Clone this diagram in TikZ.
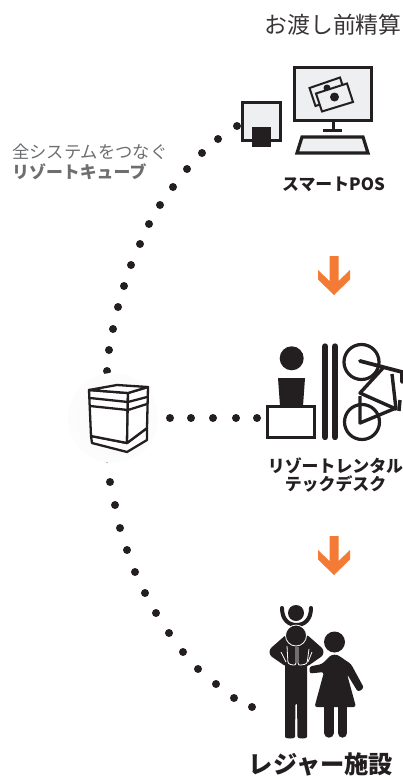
\documentclass[tikz,border=0pt]{standalone}
\usepackage{fontspec}
\setmainfont{Noto Sans CJK JP}
\usepackage{xcolor}
\usetikzlibrary{arrows.meta,positioning,calc}
\definecolor{inkdark}{HTML}{231F20}
\definecolor{screengray}{HTML}{EEEFF0}
\definecolor{labelgray}{HTML}{6D6E70}
\definecolor{arroworange}{HTML}{F47B35}
\tikzset{
  dotmark/.style={circle,fill=inkdark,inner sep=0pt,minimum size=8pt},
  iconline/.style={draw=inkdark,line width=3.2pt},
  boxline/.style={draw=inkdark,line width=2.3pt,line join=round},
  stationlabel/.style={text=inkdark,font=\bfseries\fontsize{16.9}{18}\selectfont,align=center},
}
\begin{document}
\begin{tikzpicture}[x=1pt,y=-1pt]
    \useasboundingbox (0,0) rectangle (403,776);
    % dotted arcs
    \foreach \x/\y [count=\i] in {237/126,218/139,202/153,187/169,173/187,160/205,149/224,140/244,131/265,124/286,118/307,113/329,109/350,107/371}
      \node[dotmark] (upper\i) at (\x,\y) {};
    \foreach \x/\y [count=\i] in {108/459,110/482,115/505,120/528,127/550,135/572,145/593,156/613,169/633,183/652,198/669,216/684,234/698,252/707}
      \node[dotmark] (lower\i) at (\x,\y) {};
    % cube
    \shade[inner color=black!3,outer color=black!1] (113,418) circle (45);
    \filldraw[boxline,fill=white] (91,436) -- (92,443) -- (127,452) -- (147,440) -- (147,428) -- (127,443) -- cycle;
    \filldraw[boxline,fill=white] (89,390) -- (128,393) -- (127,443) -- (91,436) -- cycle;
    \filldraw[boxline,fill=white] (128,393) -- (148,387) -- (147,428) -- (127,443) -- cycle;
    \filldraw[boxline,fill=white] (89,390) -- (117,385) -- (148,387) -- (128,393) -- cycle;
    \draw[boxline] (90,398) -- (128,402) -- (147,397);
    \draw[boxline] (90,406) -- (128,410) -- (147,404);
    \foreach \x [count=\i] in {170,191,213,236,257}
      \node[dotmark] (link\i) at (\x,418) {};
    % labels
    \node[text=inkdark!90,font=\fontsize{22.9}{24}\selectfont,inner sep=0pt] (paylabel) at (333,25) {お渡し前精算};
    \node[text=labelgray,font=\fontsize{17.3}{20}\selectfont,inner sep=0pt,anchor=west] (cubetop) at (12,152) {全システムをつなぐ};
    \node[text=labelgray,font=\bfseries\fontsize{16.9}{20}\selectfont,inner sep=0pt,anchor=west] (cubename) at (12,172) {リゾートキューブ};
    \node[stationlabel,inner sep=0pt] (poslabel) at (333.5,184) {スマートPOS};
    \node[stationlabel,inner sep=0pt] (desklabel) at (335.5,475) {リゾートレンタル\\テックデスク};
    \node[stationlabel,font=\bfseries\fontsize{24.3}{26}\selectfont,inner sep=0pt] (leisurelabel) at (321,764) {レジャー施設};
    % orange arrows
    \foreach \off in {0,280}
      \fill[arroworange] (329.5,256+\off) -- (338.5,256+\off) -- (338.5,281+\off) -- (350,270+\off) -- (350,279.5+\off)
        -- (334,295+\off) -- (318,279.5+\off) -- (318,270+\off) -- (329.5,281+\off) -- cycle;
    % card reader
    \filldraw[iconline,fill=screengray] (242.5,102.5) rectangle (280.5,140.5);
    \fill[inkdark] (252,127) rectangle (271,147);
    % monitor and keyboard
    \filldraw[iconline,fill=screengray] (294.5,67.5) rectangle (371.5,120.5);
    \fill[inkdark] (331.5,121) rectangle (334.5,130);
    \fill[inkdark] (323,128.5) rectangle (342,132);
    \filldraw[iconline,fill=screengray,line join=miter] (302,137) -- (363,137) -- (368,153) -- (297,153) -- cycle;
    % bills
    \filldraw[draw=inkdark,line width=2pt,fill=screengray] (309.5,88) -- (340,77.5) -- (346,96) -- (315.5,106) -- cycle;
    \fill[inkdark] (327,88) circle (3.5);
    \filldraw[draw=inkdark,line width=2pt,fill=screengray] (316,93.5) -- (347,83.5) -- (353,102) -- (322,111.5) -- cycle;
    \fill[inkdark] (334.5,97) circle (4.5);
    % desk and person
    \fill[inkdark] (291.7,358.3) circle (12);
    \fill[inkdark] (278,378) -- (305,378) -- (303,406) -- (280,406) -- cycle;
    \draw[iconline] (267.5,406.5) rectangle (314.5,437.5);
    % skis
    \foreach \x in {325.2,335}
      \draw[inkdark,line width=6.4pt,line cap=round] (\x,346.5) -- (\x,437);
    \fill[white] (320,440) rectangle (340,445);
    % bike
    \begin{scope}
      \clip (340,340) rectangle (403,445);
      \draw[iconline] (361.5,362) circle (17.5);
      \draw[iconline] (362,422) circle (17.5);
      \draw[inkdark,line width=3.8pt,line cap=round] (360,361) -- (402,372) -- (402,382);
      \draw[inkdark,line width=3.4pt,line join=round] (383,368) -- (360,393) -- (396,409) -- (392,374);
      \draw[inkdark,line width=3.4pt,line join=round] (360,396) -- (360,423) -- (396,408);
      \draw[inkdark,line width=3.4pt] (400,400) -- (399,411);
    \end{scope}
    % family
    \fill[inkdark] (296,613) circle (8);
    \draw[inkdark,line width=4pt,line cap=round] (282,608) .. controls (282,620) and (289,625) .. (296.5,625) .. controls (304,625) and (311,620) .. (311,608);
    % father
    \fill[inkdark,rounded corners=2pt] (285,645) -- (307,645) -- (307,735) .. controls (307,739) and (297.5,739) .. (297.5,735) -- (297,703) -- (295.5,703) -- (295,735) .. controls (295,739) and (285,739) .. (285,735) -- cycle;
    \draw[inkdark,line width=12pt,line cap=round,line join=round] (288,641) -- (275.5,652) -- (287,660);
    \draw[inkdark,line width=12pt,line cap=round,line join=round] (305,641) -- (317.5,652) -- (306,660);
    \filldraw[draw=white,fill=inkdark,line width=0.8pt] (296,635.5) circle (10.5);
    \filldraw[draw=white,fill=inkdark,line width=0.8pt,rounded corners=2.5pt] (287,646) -- (288,664) -- (296,665.5) -- (296,647);
    \filldraw[draw=white,fill=inkdark,line width=0.8pt,rounded corners=2.5pt] (298,647) -- (298,665.5) -- (307,664) -- (309,649);
    \draw[white,line width=0.8pt] (281,652) -- (286,662);
    \draw[white,line width=0.8pt] (312,652) -- (308,662);
    % mother
    \fill[inkdark] (334.5,642) circle (10.5);
    \fill[inkdark,rounded corners=2.5pt] (309.5,666.5) -- (309.5,673.5) -- (324,672) -- (314.5,707) -- (356,707) -- (347,674) -- (358,692) -- (364,688) -- (351,664) -- (337,654.5) -- (331,655) -- (322,664) -- cycle;
    \draw[inkdark,line width=9.4pt,line cap=round] (329,705) -- (329,733);
    \draw[inkdark,line width=9.4pt,line cap=round] (342.5,705) -- (342.5,733);
  \end{tikzpicture}
\end{document}
